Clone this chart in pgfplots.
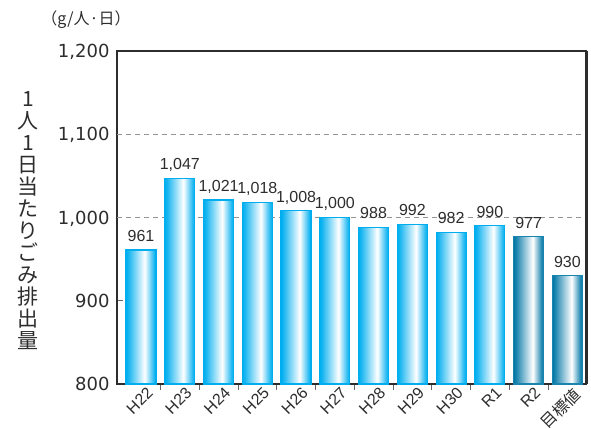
\documentclass[border=0pt]{standalone}
\usepackage{pgfplots}
\pgfplotsset{compat=1.18}
\usepackage{fontspec}
\setmainfont{Liberation Sans}
\newfontfamily\jp{Noto Sans CJK JP}
\newfontfamily\dv{DejaVu Sans}

\definecolor{barlight}{RGB}{0,174,239}
\definecolor{bardark}{RGB}{0,118,165}
\definecolor{txt}{RGB}{45,45,45}

% colours change left to right across each bar
\pgfdeclarehorizontalshading{lightshade}{100bp}{color(0bp)=(barlight); color(25bp)=(barlight); color(29bp)=(barlight!90); color(56bp)=(white); color(71bp)=(barlight!85); color(75bp)=(barlight); color(100bp)=(barlight)}
\pgfdeclarehorizontalshading{darkshade}{100bp}{color(0bp)=(bardark); color(25bp)=(bardark); color(29bp)=(bardark!90); color(57bp)=(white); color(71bp)=(bardark!85); color(75bp)=(bardark); color(100bp)=(bardark)}

\pgfplotsset{
    lightbar/.style={draw=barlight, line width=1.2bp, shade, shading=lightshade},
    darkbar/.style={draw=bardark!90, line width=1.2bp, shade, shading=darkshade},
}

\begin{document}
\begin{tikzpicture}
\useasboundingbox (-117bp,-45bp) rectangle (474bp,384bp);
\begin{axis}[
    name=ax,
    at={(0,0)}, anchor=south west,
    scale only axis,
    width=469bp, height=333bp,
    xmin=-0.62, xmax=11.48,
    ymin=800, ymax=1200,
    ytick={800,900,1000,1100,1200},
    minor ytick={900},
    xtick={0,1,...,11},
    xticklabels={H22,H23,H24,H25,H26,H27,H28,H29,H30,R1,R2,{\jp 目標値}},
    minor xtick={0.5,1.5,...,10.5},
    extra y ticks={1000,1100},
    extra y tick labels={},
    extra y tick style={grid=major},
    major grid style={gray!85, dash pattern=on 5bp off 4bp, line width=0.8bp},
    tick pos=left,
    major tick length=0pt,
    minor tick length=6bp,
    tick style={gray!80!black, line width=0.8bp},
    axis line style={txt, line width=1.2bp},
    /pgf/number format/1000 sep={,},
    /pgf/number format/assume math mode=true,
    yticklabel style={font=\dv\fontsize{18bp}{18bp}\selectfont, txt, text depth=0pt, xshift=-4bp},
    xticklabel style={font=\fontsize{16bp}{16bp}\selectfont, txt, rotate=45, anchor=north east,
        inner sep=0pt, xshift=2bp, yshift=-5bp},
    ylabel={1\\人\\1\\日\\当\\た\\り\\ご\\み\\排\\出\\量},
    ylabel style={rotate=-90, at={(rel axis cs:0,0.5)}, anchor=center,
        xshift=-89bp, yshift=-3bp, align=center,
        font=\jp\fontsize{21bp}{22bp}\selectfont, txt},
    ybar, bar width=30bp, bar shift=0pt,
    nodes near coords,
    every node near coord/.append style={font=\fontsize{16bp}{16bp}\selectfont, txt,
        anchor=south, inner sep=0pt, text depth=0pt, yshift=8bp},
]
% one plot for each bar, so that each bar gets its own shading
\addplot[lightbar] coordinates {(0,961)};
\addplot[lightbar] coordinates {(1,1047)};
\addplot[lightbar] coordinates {(2,1021)};
\addplot[lightbar] coordinates {(3,1018)};
\addplot[lightbar] coordinates {(4,1008)};
\addplot[lightbar] coordinates {(5,1000)};
\addplot[lightbar] coordinates {(6,988)};
\addplot[lightbar] coordinates {(7,992)};
\addplot[lightbar] coordinates {(8,982)};
\addplot[lightbar] coordinates {(9,990)};
\addplot[darkbar] coordinates {(10,977)};
\addplot[darkbar] coordinates {(11,930)};
\end{axis}
\draw[txt, line width=2.6bp] ([xshift=0.6bp]ax.south east) -- ([xshift=0.6bp]ax.north east);
\node[font=\jp\fontsize{16bp}{16bp}\selectfont, txt] at ([xshift=-31bp, yshift=31bp]ax.north west) {（g/人·日）};
\end{tikzpicture}
\end{document}
